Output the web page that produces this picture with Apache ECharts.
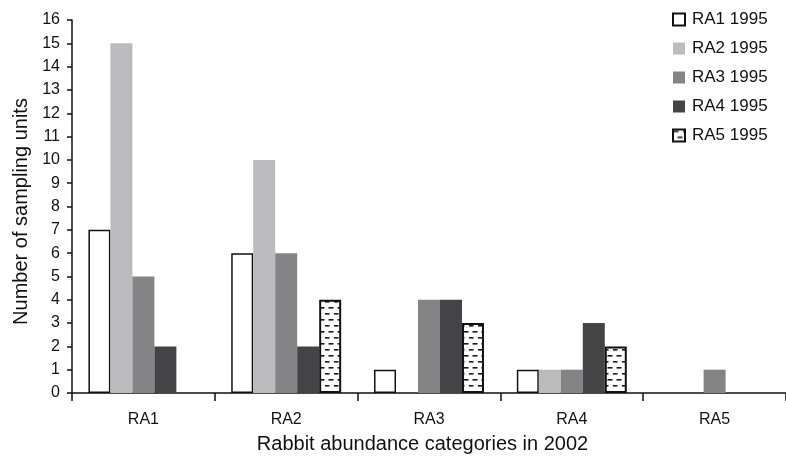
<!DOCTYPE html>
<html>
<head>
<meta charset="utf-8">
<script src="https://cdn.jsdelivr.net/npm/echarts@6/dist/echarts.min.js"></script>
<style>
html,body{margin:0;padding:0;background:#fff;}
#chart{width:786px;height:459px;}
</style>
</head>
<body>
<div id="chart"></div>
<script>
const categories = ['RA1', 'RA2', 'RA3', 'RA4', 'RA5'];
const seriesNames = ['RA1 1995', 'RA2 1995', 'RA3 1995', 'RA4 1995', 'RA5 1995'];
const ra1_1995 = [7, 6, 1, 1, 0];
const ra2_1995 = [15, 10, 0, 1, 0];
const ra3_1995 = [5, 6, 4, 1, 1];
const ra4_1995 = [2, 2, 4, 3, 0];
const ra5_1995 = [0, 4, 3, 2, 0];
const yTicks = { min: 0, max: 16, interval: 1 };

const FONT = '"Liberation Sans", Arial, Helvetica, sans-serif';

// dashed pattern for RA5 1995
const pc = document.createElement('canvas');
pc.width = 9; pc.height = 12;
const pctx = pc.getContext('2d');
pctx.fillStyle = '#ffffff';
pctx.fillRect(0, 0, 9, 12);
pctx.fillStyle = '#1a1a1a';
pctx.fillRect(1, 1, 4.5, 1.6);
pctx.fillRect(4.5, 7, 4.5, 1.6);
pctx.fillRect(0, 7, 0.5, 1.6);
const pattern = { image: pc, repeat: 'repeat' };

const styles = [
  { color: '#ffffff', borderColor: '#111', borderWidth: 1.5 },
  { color: '#bbbbbe', borderWidth: 0 },
  { color: '#848486', borderWidth: 0 },
  { color: '#444446', borderWidth: 0 },
  { color: pattern, borderColor: '#111', borderWidth: 2 }
];
const dataSets = [ra1_1995, ra2_1995, ra3_1995, ra4_1995, ra5_1995];

const chart = echarts.init(document.getElementById('chart'), null, { renderer: 'canvas' });
chart.setOption({
  animation: false,
  backgroundColor: '#ffffff',
  textStyle: { fontFamily: FONT },
  grid: { left: 72, right: -12, top: 20, bottom: 66, containLabel: false },
  legend: {
    orient: 'vertical',
    left: 672,
    top: 11,
    padding: 0,
    itemWidth: 12,
    itemHeight: 12,
    itemGap: 12,
    icon: 'rect',
    textStyle: { fontSize: 17, color: '#111', fontFamily: FONT, padding: [0, 0, 0, 2] },
    data: seriesNames
  },
  xAxis: {
    type: 'category',
    data: categories,
    name: 'Rabbit abundance categories in 2002',
    nameLocation: 'middle',
    nameGap: 41,
    nameTextStyle: { fontSize: 20, color: '#111', fontFamily: FONT, padding: [0, 13, 0, 0] },
    axisLine: { lineStyle: { color: '#111', width: 1.5 } },
    axisTick: { show: true, length: 8, lineStyle: { color: '#111', width: 1.5 } },
    axisLabel: { fontSize: 16, color: '#111', margin: 19, fontFamily: FONT },
    splitLine: { show: false }
  },
  yAxis: {
    type: 'value',
    min: yTicks.min,
    max: yTicks.max,
    interval: yTicks.interval,
    name: 'Number of sampling units',
    nameLocation: 'middle',
    nameGap: 41,
    nameTextStyle: { fontSize: 20, color: '#111', fontFamily: FONT, padding: [0, 10, 0, 0] },
    axisLine: { show: true, lineStyle: { color: '#111', width: 1.5 } },
    axisTick: { show: true, length: 5, lineStyle: { color: '#111', width: 1.5 } },
    axisLabel: { fontSize: 16, color: '#111', margin: 12, fontFamily: FONT },
    splitLine: { show: false }
  },
  series: seriesNames.map((n, i) => ({
    name: n,
    type: 'bar',
    data: dataSets[i].map(v => v === 0 ? { value: v, itemStyle: { borderWidth: 0 } } : v),
    barGap: '0%',
    barCategoryGap: '23%',
    itemStyle: styles[i],
    emphasis: { disabled: true }
  }))
});
</script>
</body>
</html>
